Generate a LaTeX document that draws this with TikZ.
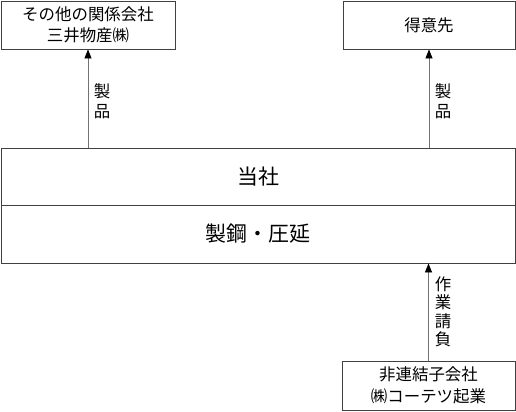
\documentclass[tikz,border=0pt]{standalone}
\usepackage{fontspec}
\setmainfont{Noto Sans CJK JP}
\usetikzlibrary{arrows.meta}
\usetikzlibrary{calc}
\usetikzlibrary{positioning}

\tikzset{
  kasha/.style={draw=black!75, line width=0.8bp, inner sep=0pt, align=center,
    font=\fontsize{16.5}{21}\selectfont},
  honsha/.style={draw=black!75, line width=0.8bp, inner sep=0pt,
    minimum width=514bp, font=\fontsize{21}{25}\selectfont},
  yajirushi/.style={draw=black!55, line width=0.8bp,
    -{Triangle[width=7bp,length=9bp,color=black]}},
  tategaki/.style={align=center, inner sep=0pt}
}

\begin{document}
\begin{tikzpicture}[x=1bp,y=-1bp]
		\useasboundingbox (0,0) rectangle (516,411);
		% kaisha
		\node[kasha, minimum width=174bp, minimum height=48bp] (kankei) at (88,25) {その他の関係会社\\三井物産㈱};
		\node[kasha, minimum width=172bp, minimum height=48bp] (tokui) at (429,25) {得意先};
		\node[honsha, minimum height=57bp] (tosha) at (258,176.5) {当社};
		\node[honsha, minimum height=58bp] (seiko) at (258,234) {製鋼・圧延};
		\node[kasha, minimum width=173bp, minimum height=49bp, font=\fontsize{16.5}{22}\selectfont] (hiren) at (428.5,385.5) {非連結子会社\\㈱コーテツ起業};
		% yajirushi
		\draw[yajirushi] (tosha.north -| kankei) -- (kankei.south);
		\draw[yajirushi] (tosha.north -| tokui) -- (tokui.south);
		\draw[yajirushi] (hiren.north) -- (seiko.south -| hiren);
		% raberu
		\node[tategaki, font=\fontsize{16.5}{20}\selectfont] (seihinA) at (102,101) {製\\品};
		\node[tategaki, font=\fontsize{16.5}{20}\selectfont] (seihinB) at (443,101) {製\\品};
		\node[tategaki, font=\fontsize{16.5}{18.5}\selectfont] (sagyo) at (443,312) {作\\業\\請\\負};
\end{tikzpicture}
\end{document}
